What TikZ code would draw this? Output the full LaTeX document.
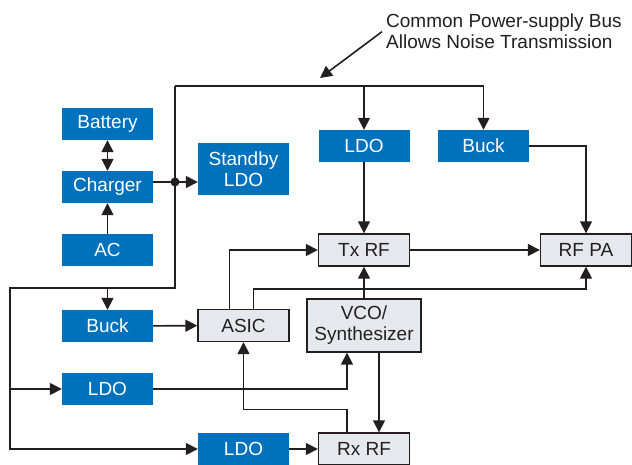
\documentclass[tikz,border=0pt]{standalone}
\usepackage{fontspec}
\setmainfont{Liberation Sans}
\usetikzlibrary{arrows.meta}
\definecolor{bcol}{RGB}{0,113,188}
\definecolor{gcol}{RGB}{229,232,236}
\definecolor{lcol}{RGB}{35,31,32}
\tikzset{every picture/.style={x=1pt,y=-1pt}}
\tikzset{bigtri/.tip={Triangle[length=12pt,width=12pt]}}
\tikzset{block/.style={rectangle,minimum width=91,minimum height=32,inner sep=0pt,align=center,font=\fontsize{19}{21}\selectfont}}
\tikzset{pwr/.style={block,fill=bcol,text=white}}
\tikzset{sig/.style={block,fill=gcol,draw=lcol,line width=1.4pt,text=lcol}}
\tikzset{wire/.style={lcol,line width=1.6pt}}
\tikzset{edge/.style={wire,-bigtri}}
\tikzset{remark/.style={inner sep=0pt,align=left,text=lcol,font=\fontsize{19}{21}\selectfont}}
\begin{document}
\begin{tikzpicture}
\useasboundingbox (0,0) rectangle (632,464);

\node [pwr] (bat) at (107.5,124) {Battery};
\node [pwr] (chg) at (107.5,187) {Charger};
\node [pwr] (ac) at (107.5,250) {AC};
\node [pwr,minimum height=52] (sby) at (243.5,169) {Standby\\LDO};
\node [pwr] (ldo1) at (364,146) {LDO};
\node [pwr] (buck1) at (483.5,146) {Buck};
\node [pwr] (buck2) at (107.5,326) {Buck};
\node [pwr] (ldo2) at (107.5,389) {LDO};
\node [pwr] (ldo3) at (243.5,449) {LDO};

\node [sig] (tx) at (364,250) {Tx RF};
\node [sig] (pa) at (586,250) {RF PA};
\node [sig] (asic) at (243.5,325.5) {ASIC};
\node [sig,minimum width=114,minimum height=53] (vco) at (364,325.5) {VCO/\\Synthesizer};
\node [sig] (rx) at (364,449) {Rx RF};

\node [remark,anchor=north west] (note) at (386,14) {Common Power-supply Bus\\Allows Noise Transmission};

\coordinate (j) at (175,182);
\coordinate (b1) at (175,86);
\coordinate (b2) at (175,288);
\coordinate (b3) at (10,288);
\coordinate (tip) at (320,78);

\draw [wire,bigtri-bigtri] (bat) -- (chg);
\draw [edge] (ac) -- (chg);
\draw [wire] (chg.east |- j) -- (j);
\draw [edge] (j) -- (sby.west |- j);
\fill [lcol] (j) circle (4.5);

\draw [edge] (b1) -| (buck1);
\draw [edge] (ldo1 |- b1) -- (ldo1);
\draw [edge] (b1) -- (b2) -- (b3) |- (ldo3);
\draw [edge] (buck2 |- b2) -- (buck2);
\draw [edge] (b3 |- ldo2) -- (ldo2);

\draw [edge] (ldo3) -- (rx);
\draw [edge] (buck2) -- (asic);
\draw [edge] (ldo2) -| ([xshift=-17]vco.south);
\draw [edge] ([xshift=-17]rx.north) -- ++(0,-23) -| (asic);
\draw [edge] ([xshift=15]vco.south) -- ([xshift=15]rx.north);
\draw [edge] (vco) -- (tx);
\draw [edge] (ldo1) -- (tx);
\draw [edge] ([xshift=-14]asic.north) |- (tx);
\draw [edge] ([xshift=10]asic.north) -- ++(0,-20) -| (pa);
\draw [edge] (tx) -- (pa);
\draw [edge] (buck1) -| (pa);

\draw [edge] ([xshift=-4]note.west) -- (tip);
\end{tikzpicture}
\end{document}
